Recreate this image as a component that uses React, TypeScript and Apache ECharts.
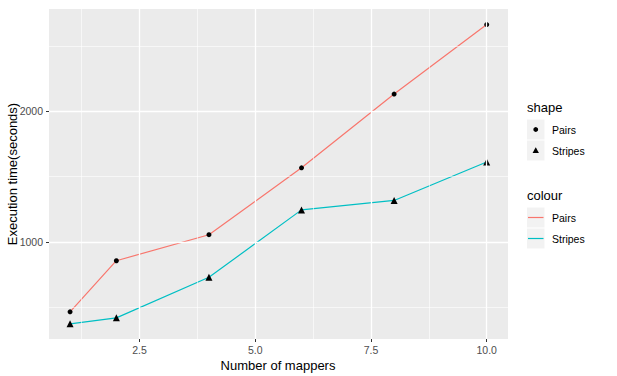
import React, { useEffect, useRef } from "react";
import * as echarts from "echarts";

const mappers = [1, 2, 4, 6, 8, 10];
const pairsTime = [466, 857, 1056, 1568, 2132, 2664];
const stripesTime = [374, 420, 730, 1246, 1318, 1612];
const xTickValues = [2.5, 5, 7.5, 10];
const xMinorValues = [1.25, 3.75, 6.25, 8.75];
const yTickValues = [1000, 2000];
const yMinorValues = [500, 1500, 2500];
const seriesNames = ["Pairs", "Stripes"];
const seriesColors = ["#F8766D", "#00BFC4"];

const FONT = "Liberation Sans, Arial, Helvetica, sans-serif";

export default function App() {
  const ref = useRef<HTMLDivElement>(null);
  useEffect(() => {
    if (!ref.current) return;
    const chart = echarts.init(ref.current, undefined, { renderer: "svg" });
    const gridLine = (axis: "xAxis" | "yAxis", v: number, w: number) => ({
      [axis]: v,
      lineStyle: { color: "#FFFFFF", width: w, type: "solid" },
    });
    const legendX = 527;
    const keyW = 17.5;
    const keyH = 20;
    const graphic: any[] = [
      {
        type: "text",
        x: 12,
        y: 174,
        rotation: Math.PI / 2,
        style: {
          text: "Execution time(seconds)",
          font: `13px ${FONT}`,
          fill: "#000",
          textAlign: "center",
          textVerticalAlign: "middle",
        },
      },
      {
        type: "text",
        x: 278,
        y: 365,
        style: {
          text: "Number of mappers",
          font: `13px ${FONT}`,
          fill: "#000",
          textAlign: "center",
          textVerticalAlign: "middle",
        },
      },
      {
        type: "text",
        x: legendX,
        y: 107,
        style: { text: "shape", font: `13px ${FONT}`, fill: "#000", textVerticalAlign: "middle" },
      },
      {
        type: "text",
        x: legendX,
        y: 195,
        style: { text: "colour", font: `13px ${FONT}`, fill: "#000", textVerticalAlign: "middle" },
      },
    ];
    seriesNames.forEach((name, i) => {
      const y1 = 119.5 + i * 21;
      const y2 = 207.5 + i * 21;
      graphic.push(
        { type: "rect", shape: { x: legendX, y: y1, width: keyW, height: keyH }, style: { fill: "#F2F2F2" } },
        { type: "rect", shape: { x: legendX, y: y2, width: keyW, height: keyH }, style: { fill: "#F2F2F2" } },
        {
          type: "text",
          x: 552,
          y: y1 + keyH / 2,
          style: { text: name, font: `10.5px ${FONT}`, fill: "#000", textVerticalAlign: "middle" },
        },
        {
          type: "text",
          x: 552,
          y: y2 + keyH / 2,
          style: { text: name, font: `10.5px ${FONT}`, fill: "#000", textVerticalAlign: "middle" },
        },
        {
          type: "line",
          shape: { x1: legendX + 1, y1: y2 + keyH / 2, x2: legendX + keyW - 1, y2: y2 + keyH / 2 },
          style: { stroke: seriesColors[i], lineWidth: 1.2 },
        }
      );
    });
    const cx = legendX + keyW / 2;
    graphic.push(
      { type: "circle", shape: { cx, cy: 129.5, r: 2.4 }, style: { fill: "#000" } },
      {
        type: "polygon",
        shape: { points: [[cx, 147.3], [cx - 3.2, 153], [cx + 3.2, 153]] },
        style: { fill: "#000" },
      }
    );

    chart.setOption({
      animation: false,
      grid: {
        left: 49,
        right: 109,
        top: 9,
        bottom: 37,
        show: true,
        backgroundColor: "#EBEBEB",
        borderWidth: 0,
        containLabel: false,
        outerBoundsMode: "none",
      },
      xAxis: {
        type: "value",
        min: 0.545,
        max: 10.46,
        axisLine: { show: false },
        splitLine: { show: false },
        axisTick: {
          show: true,
          length: 3,
          customValues: xTickValues,
          lineStyle: { color: "#333333", width: 1 },
        },
        axisLabel: {
          customValues: xTickValues,
          formatter: (v: number) => v.toFixed(1),
          color: "#4D4D4D",
          fontSize: 10.5,
          fontFamily: FONT,
          margin: 5,
        },
      },
      yAxis: {
        type: "value",
        min: 258,
        max: 2783,
        axisLine: { show: false },
        splitLine: { show: false },
        axisTick: {
          show: true,
          length: 3,
          customValues: yTickValues,
          lineStyle: { color: "#333333", width: 1 },
        },
        axisLabel: {
          customValues: yTickValues,
          formatter: (v: number) => String(v),
          color: "#4D4D4D",
          fontSize: 10.5,
          fontFamily: FONT,
          margin: 6,
        },
      },
      graphic,
      series: [
        {
          type: "line",
          data: [],
          z: 1,
          silent: true,
          markLine: {
            silent: true,
            symbol: "none",
            label: { show: false },
            animation: false,
            data: [
              ...xMinorValues.map((v) => gridLine("xAxis", v, 0.6)),
              ...yMinorValues.map((v) => gridLine("yAxis", v, 0.6)),
              ...xTickValues.map((v) => gridLine("xAxis", v, 1.3)),
              ...yTickValues.map((v) => gridLine("yAxis", v, 1.3)),
            ],
          },
        },
        {
          name: "Pairs",
          type: "line",
          z: 3,
          data: mappers.map((m, i) => [m, pairsTime[i]]),
          symbol: "circle",
          symbolSize: 5,
          lineStyle: { color: seriesColors[0], width: 1.2 },
          itemStyle: { color: "#000", borderWidth: 0 },
        },
        {
          name: "Stripes",
          type: "line",
          z: 3,
          data: mappers.map((m, i) => [m, stripesTime[i]]),
          symbol: "triangle",
          symbolSize: 7,
          lineStyle: { color: seriesColors[1], width: 1.2 },
          itemStyle: { color: "#000", borderWidth: 0 },
        },
      ],
    });
    return () => chart.dispose();
  }, []);
  return (
    <div
      ref={ref}
      style={{ position: "fixed", left: 0, top: 0, width: 617, height: 376, background: "#fff" }}
    />
  );
}
